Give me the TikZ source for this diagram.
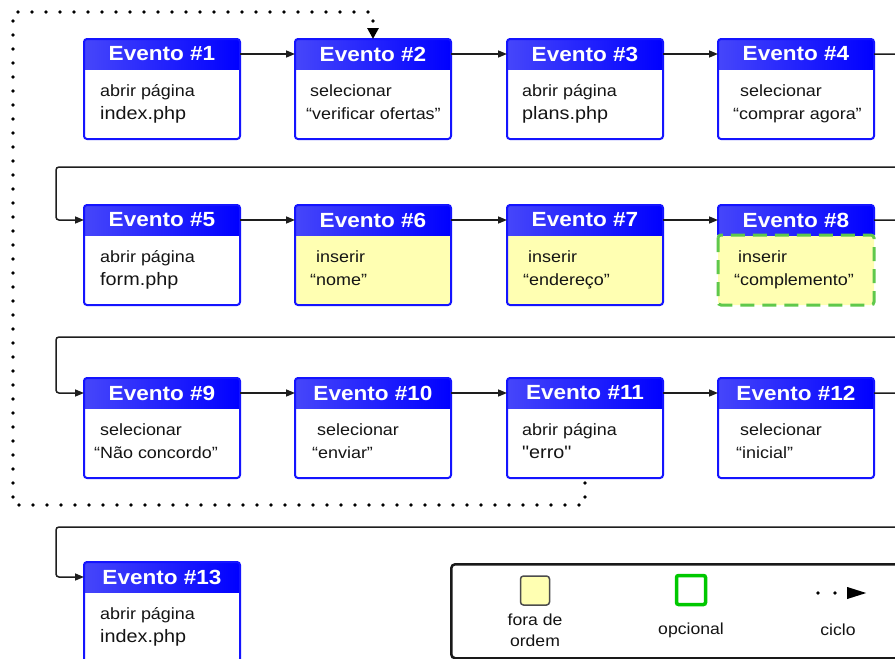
\documentclass[tikz,border=0pt]{standalone}
\usepackage{fontspec}
\setmainfont{Liberation Sans}[FakeStretch=1.1]
\newfontfamily\plainquotes{Liberation Sans}[FakeStretch=1.1, Ligatures=TeXOff]
\usetikzlibrary{arrows.meta,calc}

\definecolor{evblue}{RGB}{20,20,255}
\definecolor{hdrL}{RGB}{70,70,250}
\definecolor{hdrR}{RGB}{0,0,255}
\definecolor{todoyellow}{RGB}{255,255,178}
\definecolor{optgreen}{RGB}{95,200,75}
\definecolor{keygreen}{RGB}{0,200,0}
\definecolor{ink}{RGB}{20,20,20}
\definecolor{wire}{RGB}{30,30,30}

\tikzset{
  evbody/.style={minimum width=156pt, minimum height=100pt, inner sep=0pt,
    outer sep=0pt, anchor=north west, rounded corners=3pt},
  evfillplain/.style={fill=white},
  evfilltodo/.style={fill=todoyellow},
  evfillopt/.style={fill=todoyellow},
  evtitle/.style={minimum width=156pt, minimum height=30pt, inner sep=0pt,
    outer sep=0pt, anchor=north west, text=white,
    font=\fontsize{20.5}{24}\selectfont\bfseries},
  evline/.style={anchor=base west, inner sep=0pt, text=ink,
    font=\fontsize{16.3}{20}\selectfont},
  evborder/.style={draw=evblue, line width=2pt, rounded corners=3pt},
  optborder/.style={draw=optgreen, line width=3pt,
    dash pattern=on 14pt off 8pt, rounded corners=3pt},
  flow/.style={draw=wire, line width=1.5pt, rounded corners=3pt,
    -{Triangle[length=9pt,width=7pt]}},
  cycleline/.style={draw=black, line width=3.6pt, line cap=round,
    dash pattern=on 0pt off 14pt, -{Triangle[length=11pt,width=11pt]}},
  keytext/.style={text=ink, align=center, inner sep=0pt,
    font=\fontsize{16}{21}\selectfont},
}

% bigger face used for page names
\newcommand\pagefont{\fontsize{18}{20}\selectfont}

% frames of the event boxes
\newcommand\evframeplain[1]{\draw[evborder] (#1.north west) rectangle (#1.south east);}
\let\evframetodo\evframeplain
\newcommand\evframeopt[1]{%
  \draw[evborder] ($(#1.north west)+(0,30)$) |- (#1.north east) -- ($(#1.north east)+(0,30)$);
  \draw[optborder] ($(#1.north west)+(0,30)$) rectangle (#1.south east);}

% #1 name, #2 x, #3 y (top), #4 number, #5 kind (plain/todo/opt),
% #6 indent of line 1, #7 line 1, #8 indent of line 2, #9 line 2
\newcommand\evento[9]{%
  \node[evbody, evfill#5] (#1) at (#2,#3) {};
  \begin{scope}
    \clip[rounded corners=3pt] (#1.north west) rectangle (#1.south east);
    \shade[left color=hdrL, right color=hdrR] (#1.north west) rectangle ($(#1.north east)+(0,30)$);
  \end{scope}
  \csname evframe#5\endcsname{#1}%
  \node[evtitle] (#1h) at (#1.north west) {Evento \##4\hspace{12pt}};
  \node[evline] (#1a) at ($(#1.north west)+(#6,57)$) {#7};
  \node[evline] (#1b) at ($(#1.north west)+(#8,80)$) {#9};
}

\begin{document}
\begin{tikzpicture}[x=1pt, y=-1pt]
  \useasboundingbox (0,0) rectangle (895,659);
  \clip (0,0) rectangle (895,659);
  \fill[white] (0,0) rectangle (895,659);

  % row 1
  \evento{e1}{84}{39}{1}{plain}{16}{abrir página}{16}{\pagefont index.php}
  \evento{e2}{295}{39}{2}{plain}{15}{selecionar}{11}{“verificar ofertas”}
  \evento{e3}{507}{39}{3}{plain}{15}{abrir página}{15}{\pagefont plans.php}
  \evento{e4}{718}{39}{4}{plain}{22}{selecionar}{15}{“comprar agora”}
  % row 2
  \evento{e5}{84}{205}{5}{plain}{16}{abrir página}{16}{\pagefont form.php}
  \evento{e6}{295}{205}{6}{todo}{21}{inserir}{15}{“nome”}
  \evento{e7}{507}{205}{7}{todo}{21}{inserir}{16}{“endereço”}
  \evento{e8}{718}{205}{8}{opt}{20}{inserir}{16}{“complemento”}
  % row 3
  \evento{e9}{84}{378}{9}{plain}{16}{selecionar}{10}{“Não concordo”}
  \evento{e10}{295}{378}{10}{plain}{22}{selecionar}{17}{“enviar”}
  \evento{e11}{507}{378}{11}{plain}{15}{abrir página}{15}{\plainquotes\pagefont "erro"}
  \evento{e12}{718}{378}{12}{plain}{22}{selecionar}{18}{“inicial”}
  % row 4
  \evento{e13}{84}{562}{13}{plain}{16}{abrir página}{16}{\pagefont index.php}

  % flow inside the rows
  \draw[flow] (e1h) -- (e2h);
  \draw[flow] (e2h) -- (e3h);
  \draw[flow] (e3h) -- (e4h);
  \draw[flow] (e5h) -- (e6h);
  \draw[flow] (e6h) -- (e7h);
  \draw[flow] (e7h) -- (e8h);
  \draw[flow] (e9h) -- (e10h);
  \draw[flow] (e10h) -- (e11h);
  \draw[flow] (e11h) -- (e12h);

  % wrapping from one row to the next
  \coordinate (w1r) at (910,167);  \coordinate (w1l) at (56,167);
  \coordinate (w2r) at (910,337);  \coordinate (w2l) at (56,337);
  \coordinate (w3r) at (910,527);  \coordinate (w3l) at (56,527);
  \draw[flow] (e4h.east) -| (w1r) -- (w1l) |- (e5h.west);
  \draw[flow] (e8h.east) -| (w2r) -- (w2l) |- (e9h.west);
  \draw[flow] (e12h.east) -| (w3r) -- (w3l) |- (e13h.west);

  % cycle back from the error page
  \coordinate (c0) at ($(e11.south)+(0,5)$);
  \coordinate (c1) at (13,505);
  \coordinate (c2) at (13,12);
  \draw[cycleline] (c0) |- (c1) -- (c2) -| (e2.north);

  % legend
  \node[draw=black!90, line width=2.5pt, rounded corners=4pt, inner sep=0pt,
        minimum width=465pt, minimum height=94pt, anchor=north west] (legend) at (450,563) {};
  \node[draw=black!70, fill=todoyellow, line width=1.5pt, rounded corners=3pt,
        minimum size=29pt, inner sep=0pt] (keytodo) at (535,590.5) {};
  \node[keytext] (keytodotxt) at (535,630) {fora de\\ordem};
  \node[draw=keygreen, line width=3.5pt, rounded corners=2pt,
        minimum size=29pt, inner sep=0pt] (keyopt) at (691,590) {};
  \node[keytext] (keyopttxt) at (691,630) {opcional};
  \coordinate (keyA) at (818,593);
  \coordinate (keyB) at (867,593);
  \draw[cycleline, dash pattern=on 0pt off 17pt,
        -{Triangle[length=20pt,width=11pt]}] (keyA) -- (keyB);
  \node[keytext] (keycycletxt) at (838,630) {ciclo};
\end{tikzpicture}
\end{document}
